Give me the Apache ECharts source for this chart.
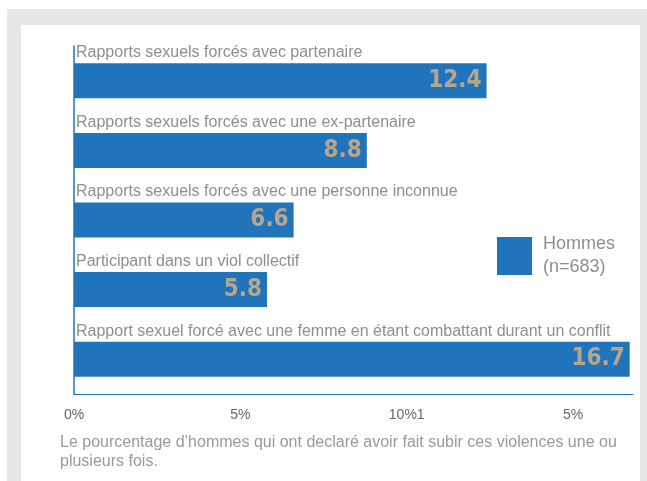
<!DOCTYPE html>
<html>
<head>
<meta charset="utf-8">
<script src="https://cdn.jsdelivr.net/npm/echarts@6/dist/echarts.min.js"></script>
<style>
  html, body { margin: 0; padding: 0; background: #fff; }
  .frame { position: absolute; left: 7px; top: 9px; width: 640px; height: 472px; background: #e6e7e8; }
  .panel { position: absolute; left: 21px; top: 25px; width: 619px; height: 456px; background: #fff; }
  #chart { position: absolute; left: 0; top: 0; width: 647px; height: 481px; }
</style>
</head>
<body>
<div class="frame"></div>
<div class="panel"></div>
<div id="chart"></div>
<script>
  // categories, top to bottom
  var categories = [
    'Rapports sexuels forcés avec partenaire',
    'Rapports sexuels forcés avec une ex-partenaire',
    'Rapports sexuels forcés avec une personne inconnue',
    'Participant dans un viol collectif',
    'Rapport sexuel forcé avec une femme en étant combattant durant un conflit'
  ];
  var hommes = [12.4, 8.8, 6.6, 5.8, 16.7];
  // tick labels as printed under the axis
  var tickValues = [0, 5, 10, 15];
  var tickLabels = ['0%', '5%', '10%1', '5%'];

  var blue = '#1f74bb';
  var grey = '#8e8e8e';

  var chart = echarts.init(document.getElementById('chart'));
  chart.setOption({
    backgroundColor: 'transparent',
    animation: false,
    textStyle: { fontFamily: 'Liberation Sans' },
    grid: { left: 74, top: 46, right: 14, bottom: 87 },
    legend: {
      left: 492,
      top: 228,
      orient: 'vertical',
      itemWidth: 35,
      itemHeight: 38,
      icon: 'rect',
      data: ['Hommes'],
      formatter: function () { return 'Hommes\n(n=683)'; },
      textStyle: { fontSize: 18, lineHeight: 23, color: grey, padding: [0, 0, 0, 6] }
    },
    xAxis: {
      type: 'value',
      min: 0,
      max: 16.8,
      interval: 5,
      axisLine: { show: true, lineStyle: { color: blue, width: 1 } },
      axisTick: { show: false },
      splitLine: { show: false },
      axisLabel: {
        margin: 14,
        fontSize: 14,
        color: '#666',
        formatter: function (v) {
          var i = tickValues.indexOf(v);
          return i >= 0 ? tickLabels[i] : '';
        }
      }
    },
    yAxis: {
      type: 'category',
      inverse: true,
      data: categories,
      axisLine: { show: true, lineStyle: { color: blue, width: 1.5 } },
      axisTick: { show: false },
      axisLabel: {
        inside: true,
        margin: 2,
        fontSize: 16,
        color: grey,
        verticalAlign: 'bottom',
        padding: [0, 0, 20, 0]
      }
    },
    series: [{
      name: 'Hommes',
      type: 'bar',
      data: hommes,
      barWidth: 35,
      itemStyle: { color: blue },
      label: {
        show: true,
        position: 'insideRight',
        distance: 5,
        fontFamily: 'DejaVu Sans Condensed',
        fontWeight: 'bold',
        fontSize: 24,
        color: '#b9a58e',
        formatter: function (p) { return p.value.toFixed(1); }
      }
    }],
    graphic: [{
      type: 'text',
      left: 60,
      top: 433,
      style: {
        text: 'Le pourcentage d’hommes qui ont declaré avoir fait subir ces violences une ou\nplusieurs fois.',
        fontFamily: 'Liberation Sans',
        fontSize: 16,
        lineHeight: 19,
        fill: '#999'
      }
    }]
  });
</script>
</body>
</html>
